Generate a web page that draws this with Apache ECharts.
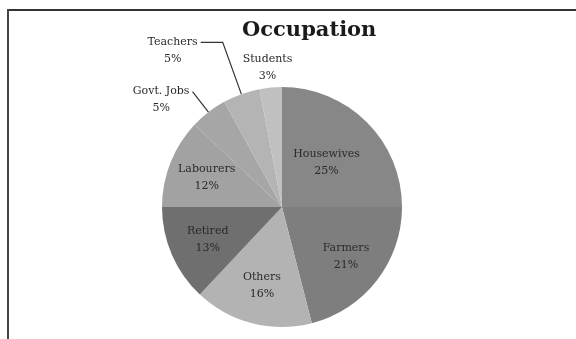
<!DOCTYPE html>
<html>
<head>
<meta charset="utf-8">
<script src="https://cdn.jsdelivr.net/npm/echarts@6/dist/echarts.min.js"></script>
<style>
html,body{margin:0;padding:0;background:#fff;}
#c{width:576px;height:339px;}
</style>
</head>
<body>
<div id="c"></div>
<script>
const categories = ["Housewives", "Farmers", "Others", "Retired", "Labourers", "Govt. Jobs", "Teachers", "Students"];
const values = [25, 21, 16, 13, 12, 5, 5, 3];
const colors = ["#878787", "#7e7e7e", "#b3b3b3", "#6f6f6f", "#a2a2a2", "#a6a6a6", "#b4b4b4", "#c0c0c0"];
const titleText = "Occupation";
// labels drawn further out from the centre (a second, transparent ring carries them)
const outerRingLabels = ["Farmers", "Others", "Retired", "Labourers"];

const FONT = "DejaVu Serif";
const LH = 17;
const R = 120;
const CENTER = [282, 207];

const outsideCfg = {
  "Teachers": { length: 55, length2: 22 },
  "Govt. Jobs": { length: 26, length2: 0 },
  "Students": { length: 2, length2: 0 }
};

const richLabel = {
  a: { fontFamily: FONT, fontSize: 11, color: "#2a2a2a", lineHeight: LH, align: "center" }
};
const fmt = p => "{a|" + p.name + "}\n{a|" + p.value + "%}";

const mainData = categories.map((name, i) => {
  const item = { name: name, value: values[i], itemStyle: { color: colors[i] } };
  const oc = outsideCfg[name];
  if (oc) {
    item.label = {
      show: true,
      position: "outside",
      padding: name === "Students" ? 0 : [LH, 0, 0, 0],
      distanceToLabelLine: 3
    };
    item.labelLine = {
      show: name !== "Students",
      length: oc.length,
      length2: oc.length2,
      lineStyle: { color: "#333", width: 1.2 }
    };
  } else if (outerRingLabels.indexOf(name) >= 0) {
    item.label = { show: false };
  }
  return item;
});

const labelData = categories.map((name, i) => ({
  name: name,
  value: values[i],
  label: { show: outerRingLabels.indexOf(name) >= 0 }
}));

const chart = echarts.init(document.getElementById("c"), null, { renderer: "canvas" });
chart.setOption({
  animation: false,
  backgroundColor: "#fff",
  title: {
    text: titleText,
    left: 237,
    top: 15,
    textStyle: { fontFamily: FONT, fontWeight: "bold", fontSize: 21, color: "#1a1a1a" }
  },
  graphic: [
    { type: "line", shape: { x1: 7, y1: 10, x2: 576, y2: 10 }, style: { stroke: "#333", lineWidth: 2 } },
    { type: "line", shape: { x1: 8, y1: 9, x2: 8, y2: 339 }, style: { stroke: "#444", lineWidth: 2 } }
  ],
  series: [{
    type: "pie",
    center: CENTER,
    radius: R,
    startAngle: 90,
    clockwise: true,
    avoidLabelOverlap: false,
    data: mainData,
    itemStyle: { borderWidth: 0 },
    label: {
      show: true,
      position: "inside",
      formatter: fmt,
      rich: richLabel
    },
    labelLayout: function (params) {
      if (categories[params.dataIndex] === "Students") {
        return { align: "center", verticalAlign: "bottom", dy: -1 };
      }
      return {};
    }
  }, {
    type: "pie",
    center: CENTER,
    radius: R * 1.3,
    startAngle: 90,
    clockwise: true,
    silent: true,
    z: 3,
    avoidLabelOverlap: false,
    data: labelData,
    itemStyle: { color: "rgba(0,0,0,0)", borderWidth: 0 },
    labelLine: { show: false },
    label: {
      position: "inside",
      formatter: fmt,
      rich: richLabel
    }
  }]
});
</script>
</body>
</html>
